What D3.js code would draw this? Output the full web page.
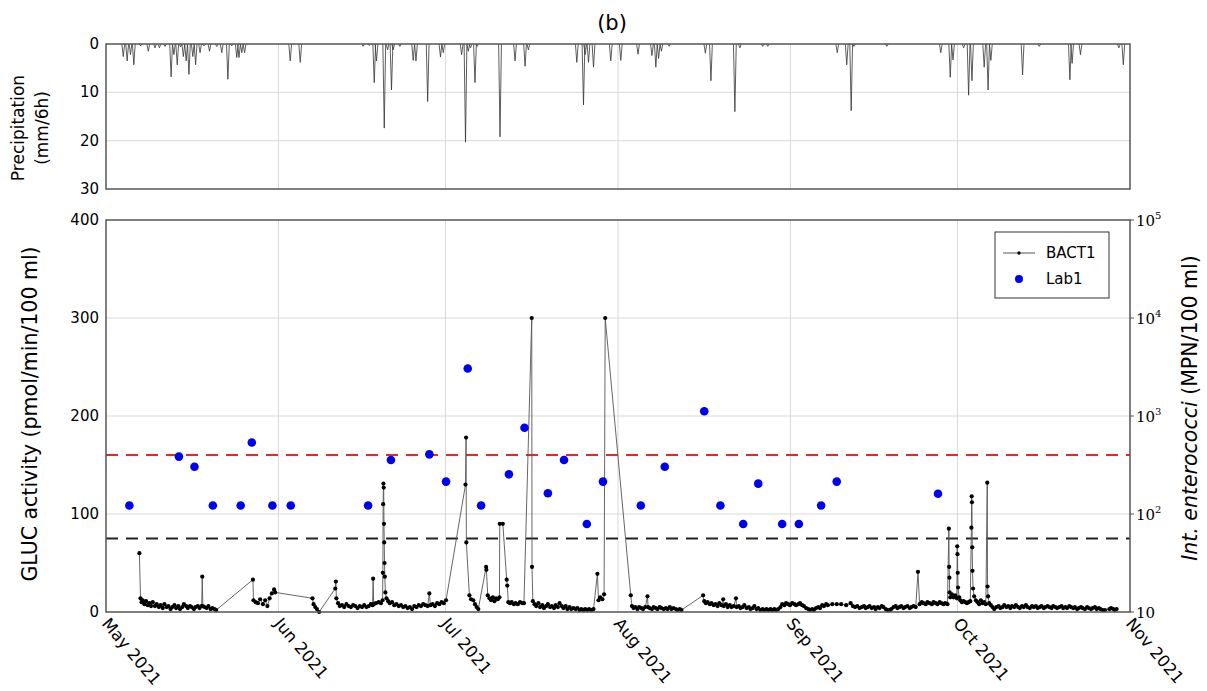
<!DOCTYPE html>
<html>
<head>
<meta charset="utf-8">
<script src="https://cdn.jsdelivr.net/npm/d3@7"></script>
<style>
  body { margin: 0; background: white; }
</style>
</head>
<body>
<div id="container"></div>
<script>
let w = 1207;
let h = 691;

// days counted from 1 May 2021
let monthTicks = ["2021-05-01", "2021-06-01", "2021-07-01", "2021-08-01", "2021-09-01", "2021-10-01", "2021-11-01"];
let monthLabels = ["May 2021", "Jun 2021", "Jul 2021", "Aug 2021", "Sep 2021", "Oct 2021", "Nov 2021"];

let precipTicks = [0, 10, 20, 30];
let glucTicks = [0, 100, 200, 300, 400];
let entTicks = [10, 100, 1000, 10000, 100000];

let glucThreshold = 75;
let entThreshold = 400;

// precipitation, [day, mm/6h]
let precip = [
  [3.1,2.6],[3.8,3.5],[4.4,2.2],[5.0,4.3],[6.2,0.4],[7.6,1.5],[8.8,0.8],[9.6,0.8],[10.6,0.5],
  [11.7,6.8],[12.2,2.2],[12.8,4.3],[13.4,0.6],[13.9,2.6],[14.4,3.5],[14.9,6.3],[15.6,2.6],
  [16.1,4.3],[16.9,1.8],[17.6,0.4],[18.6,1.5],[19.9,0.5],[20.8,1.8],[21.9,7.3],[22.6,0.4],
  [23.5,2.8],[23.9,2.8],[24.4,1.8],[24.9,1.8],[33.1,3.5],[34.9,3.8],[46.2,0.5],[47.3,0.3],
  [48.2,8.0],[48.6,3.5],[50.0,17.4],[50.6,1.2],[51.3,9.5],[51.6,1.2],[52.8,0.5],[55.2,3.4],
  [55.7,3.5],[57.8,11.9],[60.1,2.7],[60.6,1.8],[63.9,2.2],[64.6,20.3],[65.1,1.5],[65.5,0.8],
  [66.3,8.0],[66.7,0.5],[70.8,19.2],[73.5,3.5],[75.3,4.6],[75.9,1.2],[84.6,3.8],[85.8,12.6],
  [86.1,2.2],[86.7,3.8],[87.6,4.8],[90.7,3.5],[92.5,3.4],[95.6,2.1],[98.1,2.4],[98.8,4.8],
  [99.3,3.0],[99.8,1.5],[101.2,0.5],[107.7,1.9],[108.7,7.6],[113.0,14.0],[113.9,0.8],
  [118.0,0.5],[118.9,0.5],[131.4,1.8],[133.1,4.3],[133.9,13.8],[134.4,0.5],[140.3,0.5],
  [150.0,1.8],[151.7,6.9],[152.2,3.3],[154.1,0.8],[155.0,10.6],[155.6,7.6],[157.8,4.8],
  [158.5,9.5],[159.0,3.4],[164.7,6.4],[167.7,0.5],[173.2,7.4],[173.6,4.0],[175.1,2.2],
  [182.0,0.8],[182.8,4.3]
];

// BACT1 GLUC activity, [day, pmol/min/100 ml]
let bact1 = [
  [6.0,60],[6.2,14],[6.4,10],[6.6,12],[6.9,8],[7.2,11],[7.5,7],[7.8,9],[8.1,6],[8.4,10],[8.8,6],[9.1,8],
  [9.5,5],[9.8,7],[10.2,4],[10.5,8],[10.9,5],[11.2,6],[11.6,3],[11.9,5],[12.3,7],[12.6,4],[13.0,6],[13.3,3],
  [13.7,5],[14.0,8],[14.4,6],[14.7,4],[15.1,6],[15.4,5],[15.8,3],[16.1,5],[16.5,6],[16.8,4],[17.2,6],[17.3,36],
  [17.4,6],[17.7,5],[18.1,4],[18.4,6],[18.8,3],[19.1,4],[19.5,3],[19.8,2],
  [26.4,33],[26.5,12],[26.9,10],[27.3,9],[27.7,13],[28.2,8],[28.6,12],[29.0,6],[29.4,14],[29.8,19],[30.2,23],[30.4,20],
  [37.1,14],[37.3,8],[37.6,5],[37.9,3],[38.3,0],
  [41.2,24],[41.3,31],[41.4,14],[41.7,9],[42.0,6],[42.4,7],[42.8,5],[43.2,8],[43.6,6],[44.0,5],[44.4,7],[44.8,6],
  [45.2,4],[45.6,6],[46.0,5],[46.4,7],[46.8,5],[47.2,6],[47.6,8],[47.9,7],[48.0,34],[48.1,8],[48.5,9],[49.0,10],
  [49.4,9],[49.7,12],[49.75,40],[49.8,110],[49.85,131],[49.9,127],[49.95,90],[50.0,71],[50.05,50],[50.1,36],
  [50.2,20],[50.4,14],[50.7,11],[51.0,9],[51.4,10],[51.8,7],[52.2,8],[52.6,6],[53.0,7],[53.4,5],[53.8,6],[54.2,4],
  [54.6,5],[55.0,3],[55.4,6],[55.8,5],[56.2,7],[56.6,6],[57.0,8],[57.4,7],[57.8,6],[58.1,19],[58.3,7],[58.7,8],
  [59.1,6],[59.5,9],[59.9,8],[60.3,10],[60.7,9],[61.1,12],
  [64.6,130],[64.7,178],[64.75,71],[65.3,17],[65.6,13],[66.0,12],[66.3,8],[66.6,5],[66.9,3],
  [68.3,46],[68.35,43],[68.6,17],[68.9,14],[69.2,12],[69.5,15],[69.8,11],[70.1,14],[70.4,13],[70.7,15],[70.75,90],
  [71.3,90],[72.0,33],[72.1,27],[72.3,10],[72.6,9],[72.9,10],[73.3,8],[73.6,9],[74.0,8],[74.4,10],[74.8,9],[75.1,9],
  [76.5,300],[76.55,46],[76.7,11],[77.0,8],[77.3,6],[77.7,9],[78.0,5],[78.4,7],[78.7,4],[79.1,6],[79.4,8],[79.8,5],
  [80.1,6],[80.5,4],[80.8,7],[81.2,5],[81.5,9],[81.9,6],[82.2,4],[82.6,6],[82.9,3],[83.3,5],[83.6,3],[84.0,4],
  [84.4,3],[84.7,4],[85.1,2],[85.4,3],[85.8,2],[86.1,3],[86.5,2],[86.8,3],[87.2,2],[87.6,3],
  [88.3,39],[88.5,12],[88.8,15],[89.2,13],[89.5,18],[89.7,300],
  [94.3,17],[94.5,6],[94.8,4],[95.1,5],[95.5,3],[95.8,5],[96.2,4],[96.5,3],[96.9,5],[97.3,16],[97.4,5],[97.7,4],
  [98.1,3],[98.4,5],[98.8,4],[99.1,3],[99.5,5],[99.8,4],[100.2,3],[100.6,4],[100.9,3],[101.3,5],[101.6,3],[102.0,4],
  [102.4,3],[102.7,2],[103.1,3],[103.4,2],
  [107.3,17],[107.5,11],[107.8,9],[108.1,10],[108.5,8],[108.8,9],[109.2,7],[109.5,8],[109.9,6],[110.2,9],[110.6,7],
  [110.9,13],[111.0,6],[111.4,8],[111.7,5],[112.1,7],[112.4,5],[112.8,6],[113.2,14],[113.3,5],[113.7,6],[114.0,4],
  [114.4,5],[114.7,7],[115.1,4],[115.5,5],[115.8,3],[116.2,4],[116.5,6],[116.9,3],[117.2,4],[117.6,2],[118.0,3],
  [118.3,2],[118.7,3],[119.0,2],[119.4,3],[119.7,2],[120.1,3],[120.4,2],[120.8,3],[121.2,5],[121.5,8],[121.9,7],
  [122.2,9],[122.6,8],[122.9,7],[123.3,9],[123.7,8],[124.0,7],[124.4,8],[124.7,9],[125.1,7],[125.4,6],[125.8,4],
  [126.2,3],[126.5,2],[126.9,3],[127.2,2],[127.6,4],[128.0,5],[128.3,4],[128.7,7],[129.0,6],[129.4,8],[129.7,7],
  [130.5,8],[131.3,8],[132.1,8],[133.0,7],[133.8,9],[134.2,6],[134.6,5],[135.0,6],[135.4,4],[135.8,5],[136.2,6],
  [136.5,4],[136.9,5],[137.2,6],[137.6,4],[138.0,5],[138.3,3],[138.7,5],[139.0,4],[139.4,6],[139.7,5],[140.1,3],
  [140.4,2],[140.8,2],[141.1,3],[141.5,5],[141.9,6],[142.2,4],[142.6,5],[142.9,6],[143.3,4],[143.6,5],[144.0,6],
  [144.4,4],[144.7,5],[145.1,6],[145.5,5],[145.9,41],[146.2,8],[146.6,10],[146.9,9],[147.3,8],[147.6,10],[148.0,9],
  [148.4,8],[148.7,10],[149.1,9],[149.4,8],[149.8,10],[150.1,9],[150.5,8],[150.8,9],[151.2,8],
  [151.45,85],[151.5,46],[151.55,35],[151.6,20],[151.7,15],[152.0,18],[152.3,15],[152.6,17],[152.9,14],[152.95,67],
  [153.0,59],[153.05,40],[153.1,25],[153.3,15],[153.5,12],[153.8,10],[154.1,11],[154.4,10],[154.7,9],[155.0,10],
  [155.3,11],[155.5,86],[155.55,118],[155.6,112],[155.65,66],[155.7,42],[155.8,24],[156.0,16],[156.3,12],[156.6,10],
  [156.9,8],[157.2,12],[157.5,9],[157.8,10],[158.1,8],[158.35,132],[158.4,26],[158.5,16],[158.7,9],[159.0,7],
  [159.3,5],[159.6,3],
  [160.0,5],[160.4,6],[160.7,4],[161.1,5],[161.4,7],[161.8,5],[162.1,6],[162.5,4],[162.8,6],[163.2,5],[163.5,7],
  [163.9,5],[164.2,4],[164.6,6],[164.9,5],[165.3,7],[165.6,5],[166.0,4],[166.4,6],[166.7,5],[167.1,6],[167.4,4],
  [167.8,5],[168.1,6],[168.5,4],[168.8,5],[169.2,6],[169.5,5],[169.9,4],[170.2,6],[170.6,5],[170.9,4],[171.3,5],
  [171.7,6],[172.0,4],[172.4,5],[172.7,4],[173.1,6],[173.4,5],[173.8,4],[174.1,5],[174.5,3],[174.8,4],[175.2,5],
  [175.5,4],[175.9,3],[176.3,5],[176.6,4],[177.0,3],[177.3,4],[177.7,5],[178.0,3],[178.4,4],[178.7,3],[179.1,2],
  [179.5,2],[180.3,3],[180.6,4],[181.0,3],[181.3,2],[181.6,3]
];

// Lab1 Int. enterococci, MPN/100 ml
let labDay = [4.2, 13.1, 15.9, 19.2, 24.2, 26.2, 29.9, 33.2, 47.1, 51.2, 58.1, 61.1, 65.0, 67.4, 72.4, 75.2,
  79.4, 82.3, 86.4, 89.3, 96.1, 100.4, 107.5, 110.4, 114.5, 117.2, 121.5, 124.5, 128.5, 131.3, 149.5];
let labVal = [122, 385, 304, 122, 122, 537, 122, 122, 122, 356, 406, 214, 3050, 122, 254, 760,
  163, 356, 79, 214, 122, 304, 1117, 122, 79, 204, 79, 79, 122, 214, 161];

let t0 = new Date(2021, 4, 1);
function dayToDate(d){
  return new Date(t0.getTime() + d * 864e5);
}

let viz = d3.select("#container")
  .append("svg")
    .attr("width", w)
    .attr("height", h)
    .style("background-color", "white")
    .style("font-family", "DejaVu Sans")
;

let x = d3.scaleTime()
  .domain([new Date(2021, 4, 1), new Date(2021, 10, 1)])
  .range([106, 1130]);

let yP = d3.scaleLinear().domain([0, 30]).range([44, 189]);
let yG = d3.scaleLinear().domain([0, 400]).range([612, 220]);
let yE = d3.scaleLog().domain([10, 1e5]).range([612, 220]);

let gridColor = "#d9d9d9";
let frameColor = "#555";

viz.append("text")
    .text("(b)")
    .attr("x", 612)
    .attr("y", 30)
    .attr("text-anchor", "middle")
    .style("font-size", "21px")
;

// ---------- top panel: precipitation ----------
let precipPanel = viz.append("g");

precipPanel.selectAll(".vgrid")
  .data(monthTicks.slice(1, -1))
  .enter()
  .append("line")
    .attr("x1", d => x(new Date(d + "T00:00")))
    .attr("x2", d => x(new Date(d + "T00:00")))
    .attr("y1", yP(0))
    .attr("y2", yP(30))
    .style("stroke", gridColor)
;

precipPanel.selectAll(".hgrid")
  .data(precipTicks.slice(1, -1))
  .enter()
  .append("line")
    .attr("x1", x.range()[0])
    .attr("x2", x.range()[1])
    .attr("y1", d => yP(d))
    .attr("y2", d => yP(d))
    .style("stroke", gridColor)
;

let spike = d3.line()
  .x(d => x(dayToDate(d[0])))
  .y(d => yP(d[1]));

precipPanel.selectAll(".rain")
  .data(precip)
  .enter()
  .append("path")
    .attr("d", d => spike([[d[0] - 0.25, 0], [d[0], d[1]], [d[0] + 0.25, 0]]))
    .attr("fill", "none")
    .style("stroke", "#333")
    .style("stroke-width", 0.8)
;

precipPanel.append("rect")
    .attr("x", x.range()[0])
    .attr("y", yP(0))
    .attr("width", x.range()[1] - x.range()[0])
    .attr("height", yP(30) - yP(0))
    .attr("fill", "none")
    .style("stroke", frameColor)
    .style("stroke-width", 1.5)
;

precipPanel.selectAll(".ptick")
  .data(precipTicks)
  .enter()
  .append("text")
    .text(d => d)
    .attr("x", 99)
    .attr("y", d => yP(d) + 5)
    .attr("text-anchor", "end")
    .style("font-size", "15px")
;

precipPanel.append("text")
    .attr("transform", "translate(24, 128) rotate(-90)")
    .attr("text-anchor", "middle")
    .style("font-size", "17px")
    .text("Precipitation")
;
precipPanel.append("text")
    .attr("transform", "translate(48, 128) rotate(-90)")
    .attr("text-anchor", "middle")
    .style("font-size", "17px")
    .text("(mm/6h)")
;

// ---------- bottom panel ----------
let mainPanel = viz.append("g");

mainPanel.selectAll(".vgrid")
  .data(monthTicks.slice(1, -1))
  .enter()
  .append("line")
    .attr("x1", d => x(new Date(d + "T00:00")))
    .attr("x2", d => x(new Date(d + "T00:00")))
    .attr("y1", yG(0))
    .attr("y2", yG(400))
    .style("stroke", gridColor)
;

mainPanel.selectAll(".hgrid")
  .data(glucTicks.slice(1, -1))
  .enter()
  .append("line")
    .attr("x1", x.range()[0])
    .attr("x2", x.range()[1])
    .attr("y1", d => yG(d))
    .attr("y2", d => yG(d))
    .style("stroke", gridColor)
;

mainPanel.append("line")
    .attr("x1", x.range()[0])
    .attr("x2", x.range()[1])
    .attr("y1", yE(entThreshold))
    .attr("y2", yE(entThreshold))
    .style("stroke", "#e8262b")
    .style("stroke-width", 2)
    .style("stroke-dasharray", "12,8")
;

mainPanel.append("line")
    .attr("x1", x.range()[0])
    .attr("x2", x.range()[1])
    .attr("y1", yG(glucThreshold))
    .attr("y2", yG(glucThreshold))
    .style("stroke", "#222")
    .style("stroke-width", 2)
    .style("stroke-dasharray", "12,8")
;

let bactLine = d3.line()
  .x(d => x(dayToDate(d[0])))
  .y(d => yG(d[1]));

mainPanel.append("path")
    .datum(bact1)
    .attr("d", bactLine)
    .attr("fill", "none")
    .style("stroke", "#555")
    .style("stroke-width", 0.9)
;

mainPanel.selectAll(".bact")
  .data(bact1)
  .enter()
  .append("circle")
    .attr("cx", d => x(dayToDate(d[0])))
    .attr("cy", d => yG(d[1]))
    .attr("r", 2.1)
    .attr("fill", "black")
;

mainPanel.selectAll(".lab")
  .data(labDay)
  .enter()
  .append("circle")
    .attr("cx", d => x(dayToDate(d)))
    .attr("cy", (d, i) => yE(labVal[i]))
    .attr("r", 4.3)
    .attr("fill", "#0000f0")
;

mainPanel.append("rect")
    .attr("x", x.range()[0])
    .attr("y", yG(400))
    .attr("width", x.range()[1] - x.range()[0])
    .attr("height", yG(0) - yG(400))
    .attr("fill", "none")
    .style("stroke", frameColor)
    .style("stroke-width", 1.5)
;

mainPanel.selectAll(".gtick")
  .data(glucTicks)
  .enter()
  .append("text")
    .text(d => d)
    .attr("x", 99)
    .attr("y", d => yG(d) + 5)
    .attr("text-anchor", "end")
    .style("font-size", "15px")
;

// right log axis ticks
mainPanel.selectAll(".etickmark")
  .data(entTicks)
  .enter()
  .append("line")
    .attr("x1", x.range()[1])
    .attr("x2", x.range()[1] + 4)
    .attr("y1", d => yE(d))
    .attr("y2", d => yE(d))
    .style("stroke", frameColor)
;

let etick = mainPanel.selectAll(".etick")
  .data(entTicks)
  .enter()
  .append("text")
    .attr("x", 1136)
    .attr("y", d => yE(d) + 6)
    .style("font-family", "DejaVu Serif")
    .style("font-size", "15px")
;
etick.append("tspan").text("10");
etick.filter(d => d > 10)
  .append("tspan")
    .text(d => Math.round(Math.log10(d)))
    .attr("dy", -7)
    .style("font-size", "10px")
;

mainPanel.append("text")
    .attr("transform", "translate(37, 414) rotate(-90)")
    .attr("text-anchor", "middle")
    .style("font-size", "20.5px")
    .text("GLUC activity (pmol/min/100 ml)")
;

let rlab = mainPanel.append("text")
    .attr("transform", "translate(1197, 408) rotate(-90)")
    .attr("text-anchor", "middle")
    .style("font-size", "20.5px")
;
rlab.append("tspan").text("Int. enterococci").style("font-style", "italic");
rlab.append("tspan").text(" (MPN/100 ml)");

// x tick labels
viz.selectAll(".xlab")
  .data(monthTicks)
  .enter()
  .append("text")
    .text((d, i) => monthLabels[i])
    .attr("transform", d => "translate(" + (x(new Date(d + "T00:00")) - 5) + ", 624) rotate(50)")
    .style("font-size", "16.5px")
;

// legend
let leg = viz.append("g").attr("transform", "translate(995, 232)");

leg.append("rect")
    .attr("width", 114)
    .attr("height", 66)
    .attr("fill", "white")
    .style("stroke", "#333")
    .style("stroke-width", 1)
;
leg.append("line")
    .attr("x1", 8).attr("x2", 40)
    .attr("y1", 21).attr("y2", 21)
    .style("stroke", "#555")
;
leg.append("circle")
    .attr("cx", 24).attr("cy", 21).attr("r", 1.7)
    .attr("fill", "black")
;
leg.append("text")
    .text("BACT1")
    .attr("x", 51).attr("y", 26)
    .style("font-size", "15px")
;
leg.append("circle")
    .attr("cx", 24).attr("cy", 47).attr("r", 4)
    .attr("fill", "#0000f0")
;
leg.append("text")
    .text("Lab1")
    .attr("x", 51).attr("y", 52)
    .style("font-size", "15px")
;
</script>
</body>
</html>
